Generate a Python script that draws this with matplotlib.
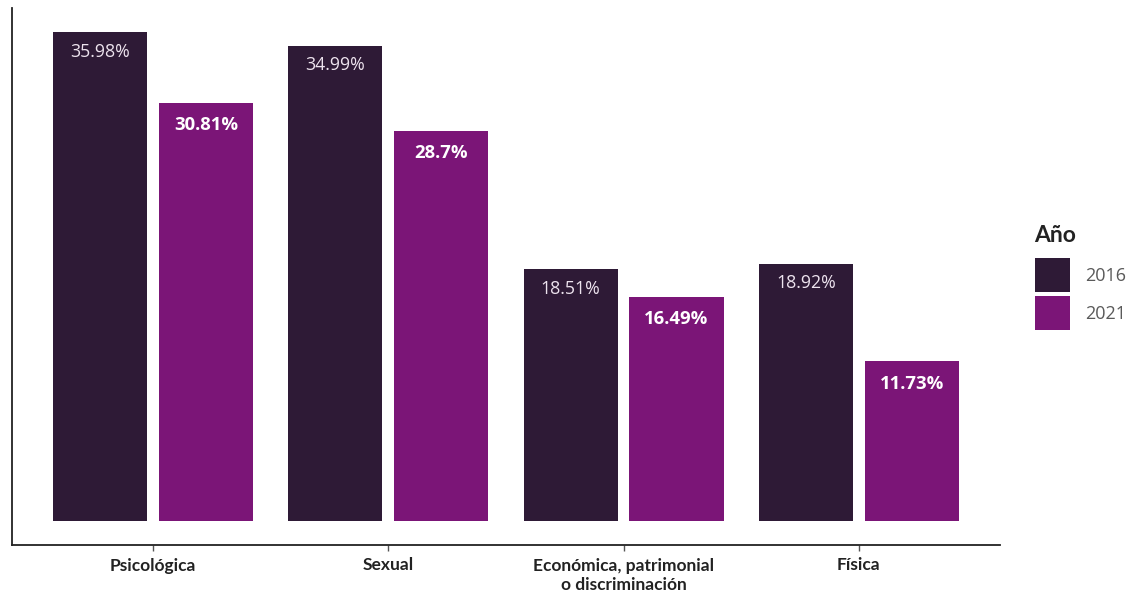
import matplotlib
matplotlib.use("Agg")
import matplotlib.pyplot as plt
import numpy as np

categories = ["Psicológica", "Sexual", "Económica, patrimonial\no discriminación", "Física"]
years = ["2016", "2021"]
values_2016 = [35.98, 34.99, 18.51, 18.92]
values_2021 = [30.81, 28.7, 16.49, 11.73]
labels_2016 = ["35.98%", "34.99%", "18.51%", "18.92%"]
labels_2021 = ["30.81%", "28.7%", "16.49%", "11.73%"]

col_2016 = "#2E1A36"
col_2021 = "#7B1577"

fig = plt.figure(figsize=(11.26, 5.93), dpi=100)
ax = fig.add_axes([12/1126, 1-545/593, (1000-12)/1126, (545-8)/593])

x = np.arange(len(categories))
w = 0.40
off = 0.225
b1 = ax.bar(x - off, values_2016, width=w, color=col_2016, label=years[0])
b2 = ax.bar(x + off, values_2021, width=w, color=col_2021, label=years[1])

for xi, v, t in zip(x - off, values_2016, labels_2016):
    ax.annotate(t, (xi, v), xytext=(0, -14), textcoords="offset points",
                ha="center", va="center", color="#EDE3EE", fontsize=12.8,
                family="Open Sans")
for xi, v, t in zip(x + off, values_2021, labels_2021):
    ax.annotate(t, (xi, v), xytext=(0, -16), textcoords="offset points",
                ha="center", va="center", color="white", fontsize=13.3,
                fontweight="bold", family="Open Sans")

ax.set_xlim(-0.6, 3.6)
ax.set_ylim(-1.8, 37.78)
ax.set_xticks(x)
ax.set_xticklabels(categories, fontsize=12.5, fontweight="bold", family="Lato",
                   color="#222222", linespacing=1.25)
ax.set_yticks([])
for s in ["top", "right"]:
    ax.spines[s].set_visible(False)
ax.spines["left"].set_color("#222222")
ax.spines["bottom"].set_color("#222222")
ax.spines["left"].set_linewidth(1.3)
ax.spines["bottom"].set_linewidth(1.3)
ax.tick_params(axis="x", length=4, width=1, color="#555555", pad=5)

leg = fig.legend(handles=[b1, b2], labels=years, loc="upper left",
                 bbox_to_anchor=(1035/1126, 1-258/593), frameon=False,
                 fontsize=13, handlelength=1.95, handleheight=2.55,
                 labelspacing=0.2, handletextpad=0.85, borderaxespad=0,
                 borderpad=0)
for t in leg.get_texts():
    t.set_color("#5A5A5A")
    t.set_family("Open Sans")
fig.text(1034/1126, 1-236/593, "Año", fontsize=16.5, fontweight="bold",
         family="Lato", color="#222222", ha="left", va="center")

fig.savefig("out.png", dpi=100)
